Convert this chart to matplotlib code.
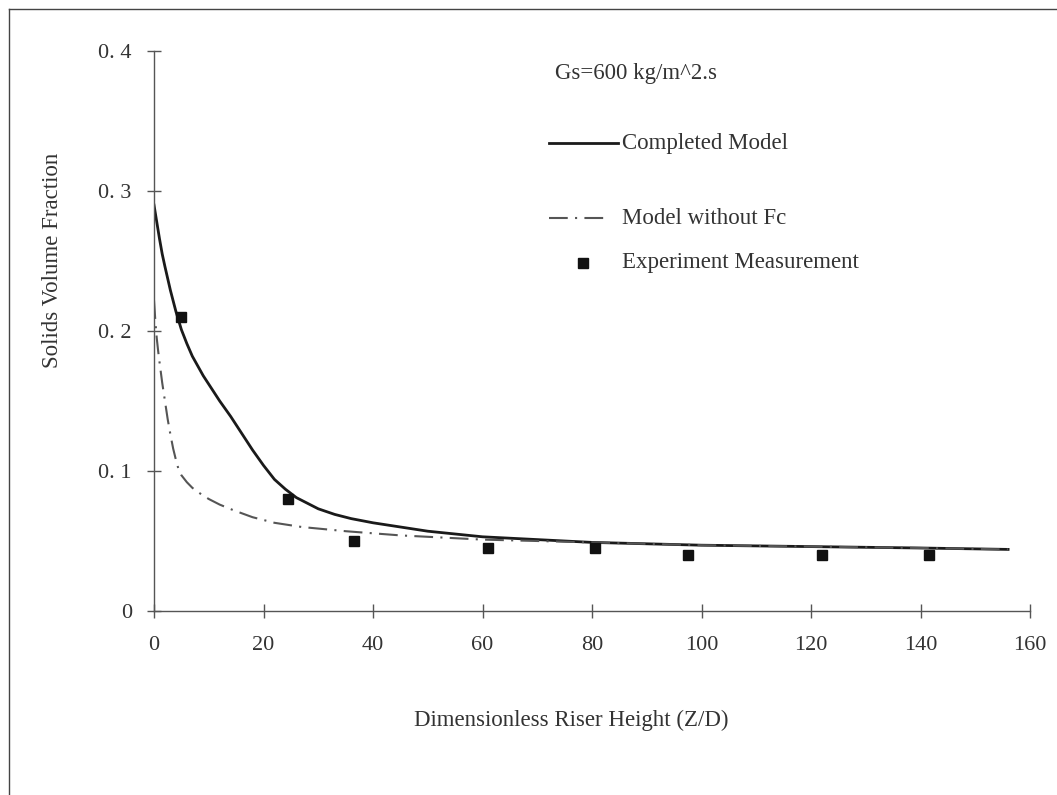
import matplotlib
matplotlib.use("Agg")
import matplotlib.pyplot as plt
from matplotlib.lines import Line2D

# Completed model curve
completed_x = [0, 0.5, 1, 1.5, 2, 3, 4, 5, 6, 7, 8, 9, 10, 12, 14, 16, 18,
               20, 22, 24, 26, 28, 30, 33, 36, 40, 45, 50, 60, 70, 80, 100,
               120, 140, 156]
completed_y = [0.290, 0.278, 0.266, 0.255, 0.246, 0.229, 0.214, 0.201, 0.191,
               0.182, 0.175, 0.168, 0.162, 0.150, 0.139, 0.127, 0.115, 0.104,
               0.094, 0.087, 0.081, 0.077, 0.073, 0.069, 0.066, 0.063, 0.060,
               0.057, 0.053, 0.051, 0.049, 0.047, 0.046, 0.045, 0.044]

# Model without Fc curve
nofc_x = [0, 0.25, 0.5, 0.75, 1, 1.5, 2, 2.5, 3, 3.5, 4, 4.5, 5, 6, 7, 8, 10,
          12, 14.5, 18, 22, 27, 35, 45, 60, 80, 100, 120, 140, 156]
nofc_y = [0.222, 0.207, 0.195, 0.186, 0.178, 0.163, 0.150, 0.137, 0.126,
          0.116, 0.108, 0.101, 0.097, 0.092, 0.088, 0.085, 0.080, 0.076,
          0.072, 0.067, 0.063, 0.060, 0.057, 0.054, 0.051, 0.049, 0.047,
          0.046, 0.045, 0.044]

# Experiment measurements
exp_x = [5, 24.5, 36.5, 61, 80.5, 97.5, 122, 141.5]
exp_y = [0.21, 0.08, 0.05, 0.045, 0.045, 0.04, 0.04, 0.04]

x_ticks = [0, 20, 40, 60, 80, 100, 120, 140, 160]
y_ticks = [0, 0.1, 0.2, 0.3, 0.4]
y_tick_labels = ["0", "0. 1", "0. 2", "0. 3", "0. 4"]

plt.rcParams['font.family'] = ['Liberation Serif', 'DejaVu Serif']

W, H = 1057, 795
fig = plt.figure(figsize=(W / 100, H / 100), dpi=100)
ax = fig.add_axes([154 / W, 1 - 611 / H, (1030 - 154) / W, (611 - 51) / H])

dashdot = (0, (9, 3.5, 1, 3.5))
ax.plot(completed_x, completed_y, color='#1a1a1a', lw=2.0)
ax.plot(nofc_x, nofc_y, color='#555555', lw=1.5, linestyle=dashdot)
ax.plot(exp_x, exp_y, linestyle='none', marker='s', markersize=7,
        color='#111111')

ax.set_xlim(0, 160)
ax.set_ylim(0, 0.4)
ax.set_xticks(x_ticks)
ax.set_yticks(y_ticks)
ax.set_yticklabels(y_tick_labels)
for side in ['top', 'right']:
    ax.spines[side].set_visible(False)
for side in ['left', 'bottom']:
    ax.spines[side].set_color('#555555')
    ax.spines[side].set_linewidth(1.0)
ax.tick_params(direction='inout', length=10, width=1.0, color='#555555',
               labelsize=16, labelcolor='#333333')
ax.tick_params(axis='y', pad=11)
ax.tick_params(axis='x', pad=13)

# axis titles
fig.text(571 / W, 1 - 720 / H, "Dimensionless Riser Height (Z/D)",
         ha='center', va='center', fontsize=16.5, color='#333333')
fig.text(52 / W, 1 - 260 / H, "Solids Volume Fraction", rotation=90,
         ha='center', va='center', fontsize=16.5, color='#333333')

# legend, drawn by hand to keep the uneven spacing
fig.text(555 / W, 1 - 73 / H, "Gs=600 kg/m^2.s", ha='left', va='center',
         fontsize=16.5, color='#333333')
fig.add_artist(Line2D([549 / W, 618 / W], [1 - 143 / H, 1 - 143 / H],
                      color='#1a1a1a', lw=2.0))
fig.text(622 / W, 1 - 143 / H, "Completed Model", ha='left', va='center',
         fontsize=16.5, color='#333333')
fig.add_artist(Line2D([549 / W, 610 / W], [1 - 218 / H, 1 - 218 / H],
                      color='#555555', lw=1.5, linestyle=dashdot))
fig.text(622 / W, 1 - 218 / H, "Model without Fc", ha='left', va='center',
         fontsize=16.5, color='#333333')
fig.add_artist(Line2D([583 / W], [1 - 263 / H], marker='s', markersize=7,
                      color='#111111', linestyle='none'))
fig.text(622 / W, 1 - 263 / H, "Experiment Measurement", ha='left',
         va='center', fontsize=16.5, color='#333333')

# outer frame (top and left edges only visible)
fig.add_artist(Line2D([9 / W, 1], [1 - 9 / H, 1 - 9 / H], color='#444444',
                      lw=1.0))
fig.add_artist(Line2D([9 / W, 9 / W], [0, 1 - 9 / H], color='#444444',
                      lw=1.0))

fig.savefig("out.png", dpi=100)
